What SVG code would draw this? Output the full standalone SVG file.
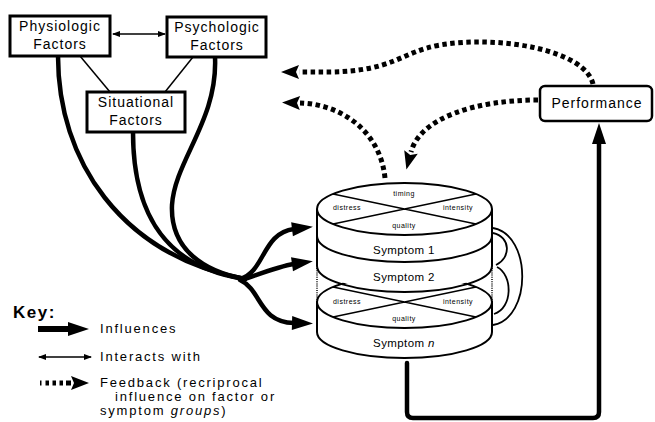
<svg xmlns="http://www.w3.org/2000/svg" width="655" height="422" viewBox="0 0 655 422">
<style>
text{font-family:"Liberation Sans",Arial,sans-serif;fill:#000}
.box{fill:#fff;stroke:#000;stroke-width:3}
.bt{font-size:14px;letter-spacing:1px;text-anchor:middle}
.thick{fill:none;stroke:#000;stroke-width:4.5;stroke-linecap:round}
.thin{fill:none;stroke:#000;stroke-width:1.5}
.dot{fill:none;stroke:#000;stroke-width:5;stroke-dasharray:4.5 3.5}
.cyl{fill:#fff;stroke:#000;stroke-width:2}
.cl{fill:none;stroke:#000;stroke-width:2}
.xl{fill:none;stroke:#000;stroke-width:1.3}
.sm{font-size:7px;letter-spacing:0.5px;text-anchor:middle}
.sy{font-size:11.5px;letter-spacing:0.4px;text-anchor:middle}
.kt{font-size:13px;letter-spacing:1.8px}
</style>
<defs>
<marker id="ah" markerUnits="userSpaceOnUse" markerWidth="22" markerHeight="16" refX="2" refY="8" orient="auto" overflow="visible">
<path d="M0,1 L21,8 L0,15 z" fill="#000"/>
</marker>
<marker id="ahd" markerUnits="userSpaceOnUse" markerWidth="20" markerHeight="14" refX="0" refY="7" orient="auto" overflow="visible">
<path d="M0,0 L18,7 L0,14 L3,7 z" fill="#000"/>
</marker>
<marker id="sa" markerUnits="userSpaceOnUse" markerWidth="8" markerHeight="6" refX="7" refY="3" orient="auto" overflow="visible">
<path d="M0,0 L8,3 L0,6 z" fill="#000"/>
</marker>
<marker id="sb" markerUnits="userSpaceOnUse" markerWidth="8" markerHeight="6" refX="1" refY="3" orient="auto" overflow="visible">
<path d="M8,0 L0,3 L8,6 z" fill="#000"/>
</marker>
</defs>

<g id="connectors">
<!-- thin interaction lines -->
<path class="thin" d="M113,34 L165,34" marker-start="url(#sb)" marker-end="url(#sa)"/>
<path class="thin" d="M80,56 L110,92"/>
<path class="thin" d="M193,57 L165,92"/>
<!-- thick influence curves -->
<path class="thick" d="M58,56 C58,160 120,255 245,279"/>
<path class="thick" d="M133,132 C133,220 170,268 245,279"/>
<path class="thick" d="M215,57 C218,120 175,160 172,205 C170,250 205,272 245,279"/>
<path class="thick" d="M240,279 C265,272 262,233 294,229" marker-end="url(#ah)"/>
<path class="thick" d="M245,279 C265,272 280,266 294,264" marker-end="url(#ah)"/>
<path class="thick" d="M240,280 C262,290 258,322 294,323" marker-end="url(#ah)"/>
<!-- performance link -->
<path class="thick" d="M407,363 L407,412 Q407,418 413,418 L593,418 Q599,418 599,412 L599,142" marker-end="url(#ah)"/>
<!-- feedback dotted -->
<path class="dot" d="M593,84 C585,50 500,35 440,45 C400,52 395,71 330,72 L299,72" marker-end="url(#ahd)"/>
<path class="dot" d="M538,100 C475,100 420,118 411,152" marker-end="url(#ahd)"/>
<path class="dot" d="M385,178 C380,130 340,104 300,103" marker-end="url(#ahd)"/>
<!-- right side loops -->
<path fill="none" stroke="#000" stroke-width="1.8" d="M493,228 C532,235 532,318 493,325"/>
<path fill="none" stroke="#000" stroke-width="1.8" d="M493,233 C511,237 511,258 496,265"/>
<path fill="none" stroke="#000" stroke-width="1.8" d="M497,267 C513,275 513,308 494,314"/>
</g>

<g id="physiologic">
<rect class="box" x="10" y="16" width="100" height="40"/>
<text class="bt" x="60" y="31">Physiologic</text>
<text class="bt" x="60" y="49">Factors</text>
</g>
<g id="psychologic">
<rect class="box" x="167" y="17" width="99" height="40"/>
<text class="bt" x="217" y="32">Psychologic</text>
<text class="bt" x="217" y="50">Factors</text>
</g>
<g id="situational">
<rect class="box" x="87" y="92" width="98" height="40"/>
<text class="bt" x="136" y="107">Situational</text>
<text class="bt" x="136" y="125">Factors</text>
</g>
<g id="performance">
<rect x="540" y="86" width="112" height="35" rx="5" fill="#fff" stroke="#000" stroke-width="2.5"/>
<text class="bt" x="597" y="108">Performance</text>
</g>

<g id="symptoms">
<!-- layer n -->
<path class="cyl" d="M317,302 L317,332 A87.5,26 0 0 0 492,332 L492,302 Z"/>
<ellipse class="cyl" cx="404.5" cy="302" rx="87.5" ry="26"/>
<path class="xl" d="M333,287 L476,317 M333,317 L476,287"/>
<text class="sm" x="347" y="304">distress</text>
<text class="sm" x="458" y="304">intensity</text>
<text class="sm" x="404" y="321">quality</text>
<text class="sy" x="404" y="347">Symptom <tspan font-style="italic">n</tspan></text>
<!-- layer 2 -->
<path d="M317,209 L317,264 A87.5,26 0 0 0 492,264 L492,209 Z" fill="#fff"/>
<path class="cl" d="M317,209 L317,266 A87.5,26 0 0 0 492,266 L492,209"/>
<path fill="none" stroke="#000" stroke-width="1.5" stroke-dasharray="1 1.2" d="M317,268 L317,300 M492,268 L492,300"/>
<text class="sy" x="404" y="281">Symptom 2</text>
<!-- layer 1 -->
<path d="M317,209 L317,236 A87.5,26 0 0 0 492,236 L492,209 Z" fill="#fff"/>
<path class="cl" d="M317,209 L317,236 A87.5,26 0 0 0 492,236 L492,209"/>
<text class="sy" x="404" y="254">Symptom 1</text>
<!-- top disk -->
<ellipse class="cyl" cx="404.5" cy="209" rx="87.5" ry="26"/>
<path class="xl" d="M333,194 L476,224 M333,224 L476,194"/>
<text class="sm" x="404" y="196">timing</text>
<text class="sm" x="347" y="210">distress</text>
<text class="sm" x="458" y="210">intensity</text>
<text class="sm" x="404" y="228">quality</text>
</g>

<g id="key">
<text x="13" y="318" font-size="17" font-weight="bold" letter-spacing="1.5">Key:</text>
<path d="M38,329 L70,329" stroke="#000" stroke-width="6" marker-end="url(#ah)"/>
<text class="kt" x="100" y="333">Influences</text>
<path class="thin" d="M39,357 L91,357" marker-start="url(#sb)" marker-end="url(#sa)"/>
<text class="kt" x="100" y="361">Interacts with</text>
<path d="M40,383 L67,383" stroke="#000" stroke-width="5" stroke-dasharray="1.5 4 3.5 3.5 3.5 3.5 3.5 3" fill="none"/>
<path d="M67,383 L71,383" stroke="#000" stroke-width="5" marker-end="url(#ahd)"/>
<text class="kt" x="100" y="387">Feedback (recriprocal</text>
<text class="kt" x="115" y="401">influence on factor or</text>
<text class="kt" x="100" y="415">symptom <tspan font-style="italic">groups</tspan>)</text>
</g>
</svg>
